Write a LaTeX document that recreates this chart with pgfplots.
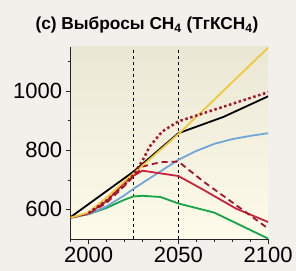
\documentclass[border=0pt]{standalone}
\usepackage{fontspec}
\setmainfont{Liberation Sans}
\usepackage{pgfplots}
\pgfplotsset{compat=1.18}
\definecolor{outerbg}{RGB}{241,240,235}
\definecolor{bgtop}{RGB}{235,231,213}
\definecolor{bgbot}{RGB}{254,251,234}
\definecolor{cyellow}{RGB}{240,200,60}
\definecolor{cblue}{RGB}{110,165,220}
\definecolor{cgreen}{RGB}{20,165,70}
\definecolor{cred}{RGB}{200,35,60}
\definecolor{cdred}{RGB}{165,20,45}
\begin{document}
\begin{tikzpicture}
\fill[outerbg] (0,0) rectangle (296pt,271pt);
\node[font=\fontsize{17.3}{17.3}\selectfont\bfseries] at (147pt,246pt) {(c) Выбросы CH\textsubscript{4} (ТгКСН\textsubscript{4})};
\begin{axis}[
  at={(70.7pt,32pt)}, anchor=south west,
  scale only axis, width=197.6pt, height=192pt,
  xmin=1990, xmax=2100, ymin=500, ymax=1150,
  axis x line*=bottom, axis y line*=left,
  xtick={2000,2050,2100},
  minor xtick={1990,2010,2020,2030,2040,2060,2070,2080,2090},
  ytick={600,800,1000},
  minor ytick={700,900,1100},
  tick align=outside,
  major tick length=5pt, minor tick length=3pt,
  tick style={black!85, line width=0.7pt},
  axis line style={black!85, line width=0.7pt, -},
  ticklabel style={font=\fontsize{22}{22}\selectfont},
  /pgf/number format/assume math mode=true,
  /pgf/number format/1000 sep={},
  axis background/.style={top color=bgtop, bottom color=bgbot},
  every axis plot/.append style={line width=1.8pt, line join=round},
]
\addplot[black, line width=0.6pt, dashed] coordinates {(2025,500) (2025,1150)};
\addplot[black, line width=0.6pt, dashed] coordinates {(2050,500) (2050,1150)};
% green
\addplot[cgreen] coordinates {(1990,572) (2000,584) (2010,605) (2020,633) (2025,644) (2030,646) (2040,642) (2050,620) (2070,589) (2100,501)};
% blue
\addplot[cblue] coordinates {(1990,572) (2000,584) (2010,610) (2020,648) (2025,670) (2050,768) (2060,798) (2070,822) (2080,838) (2090,849) (2100,858)};
% red solid
\addplot[cred] coordinates {(1990,572) (2000,586) (2010,628) (2020,690) (2025,714) (2030,731) (2050,713) (2064,666) (2082,603) (2100,557)};
% dashed dark red
\addplot[cdred, dash pattern=on 6pt off 4pt] coordinates {(1990,572) (2000,586) (2010,622) (2020,680) (2025,712) (2030,745) (2040,760) (2050,762) (2064,694) (2082,615) (2100,535)};
% black
\addplot[black] coordinates {(1990,574) (2000,618) (2010,662) (2020,706) (2025,728) (2050,858) (2075,913) (2100,983)};
% yellow
\addplot[cyellow] coordinates {(1990,572) (2000,590) (2010,640) (2020,695) (2025,722) (2050,855) (2100,1148)};
% dotted dark red
\addplot[cdred, line width=2.5pt, line cap=butt, dash pattern=on 2.5pt off 2.6pt] coordinates {(2000,588) (2010,630) (2020,683) (2025,718) (2030,765) (2034,813) (2041,864) (2050,898) (2100,997)};
\end{axis}
\end{tikzpicture}
\end{document}
